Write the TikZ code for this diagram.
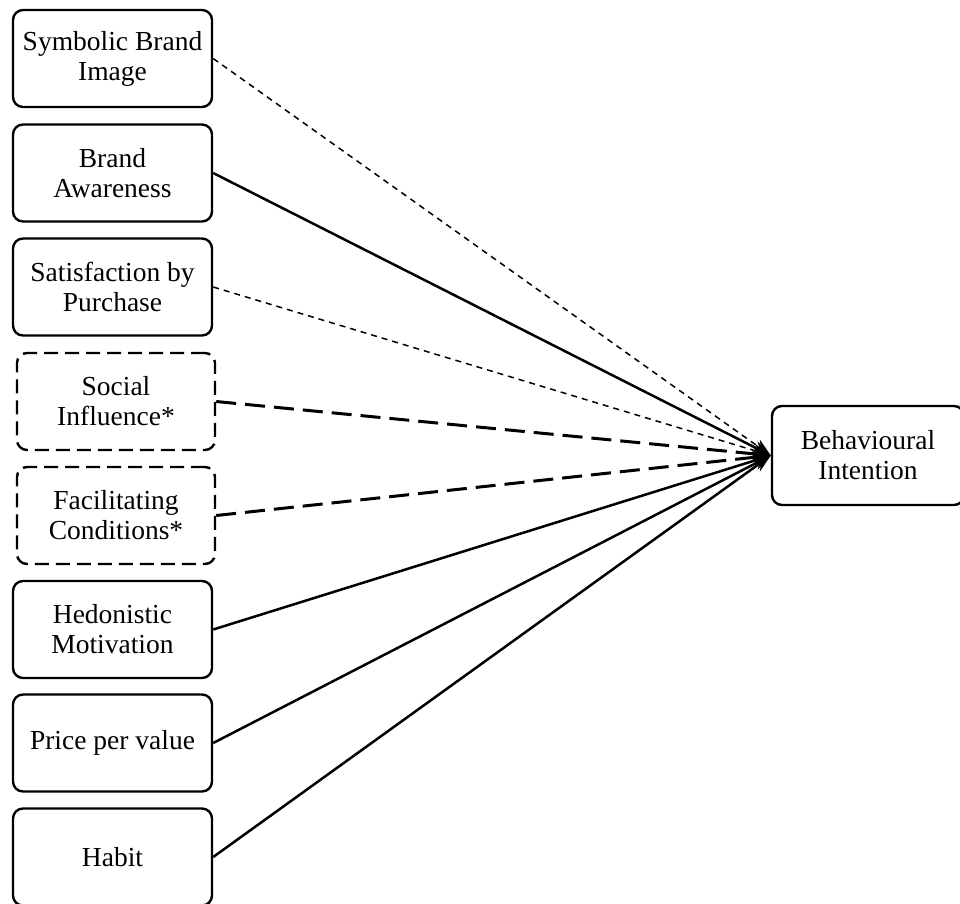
\documentclass[tikz,border=0pt]{standalone}
\usepackage{fontspec}
\setmainfont{Liberation Serif}
\usetikzlibrary{arrows.meta}
\begin{document}
\begin{tikzpicture}[x=1pt,y=-1pt,
  box/.style={draw, line width=2.4pt, rounded corners=10pt, minimum width=199pt,
    minimum height=97pt, align=center, inner sep=0pt,
    font=\fontsize{27.5}{30}\selectfont},
  dbox/.style={box, minimum width=198pt, dash pattern=on 14pt off 7pt},
  link/.style={line width=2.5pt, -{Stealth[length=18pt,width=13pt]}},
  finedash/.style={link, line width=1.5pt, dash pattern=on 6pt off 5pt},
  longdash/.style={link, line width=3pt, dash pattern=on 20pt off 9pt}]
\useasboundingbox (0,0) rectangle (960,903);

% factor boxes
\node[box]  (sym)  at (112.5,58.5) {Symbolic Brand\\Image};
\node[box]  (aware) at (112.5,173) {Brand\\Awareness};
\node[box]  (sat)  at (112.5,287) {Satisfaction by\\Purchase};
\node[dbox] (soc)  at (116,401.5) {Social\\Influence*};
\node[dbox] (fac)  at (116,515.5) {Facilitating\\Conditions*};
\node[box]  (hed)  at (112.5,629.5) {Hedonistic\\Motivation};
\node[box]  (price) at (112.5,743) {Price per value};
\node[box]  (habit) at (112.5,857) {Habit};

% outcome
\node[box, minimum width=192pt, minimum height=99pt] (bi) at (868,455.5) {Behavioural\\Intention};

% paths
\draw[finedash] (sym.east) -- (bi.west);
\draw[link]     (aware.east) -- (bi.west);
\draw[finedash] (sat.east) -- (bi.west);
\draw[longdash] (soc.east) -- (bi.west);
\draw[longdash] (fac.east) -- (bi.west);
\draw[link]     (hed.east) -- (bi.west);
\draw[link]     (price.east) -- (bi.west);
\draw[link]     (habit.east) -- (bi.west);
\end{tikzpicture}
\end{document}
